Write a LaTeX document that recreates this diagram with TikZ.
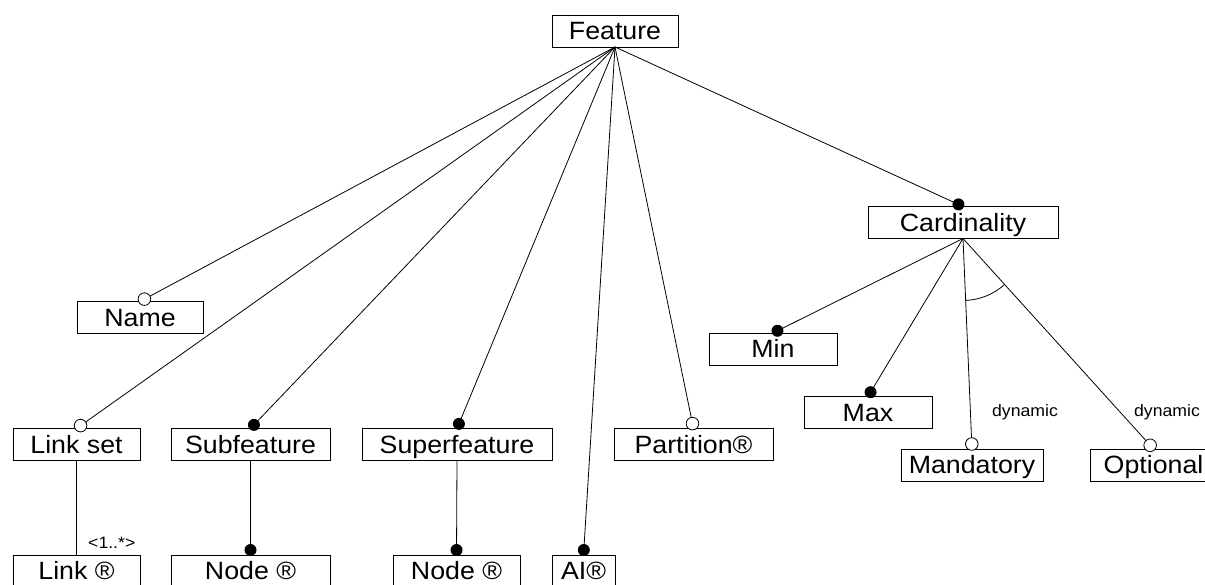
\documentclass[tikz,border=0pt]{standalone}
\usepackage{fontspec}
\setmainfont{Liberation Sans}[FakeStretch=1.07]
\usetikzlibrary{calc}
\tikzset{
  box/.style={draw, line width=0.9pt, minimum width=#1, minimum height=32pt,
    inner sep=0pt, outer sep=0pt, text height=17.5pt, text depth=0pt,
    font=\fontsize{25}{29}\selectfont},
  lbl/.style={inner sep=0pt, font=\fontsize{16.5}{19}\selectfont},
  conn/.style={line width=0.8pt},
  fulldot/.style={fill=black},
  opendot/.style={fill=white, draw=black, line width=0.8pt},
}
% connector ending in a filled dot on the child's top edge
\newcommand\solidlink[2]{%
  \draw[conn] (#1.south) -- ($(#2.north)!5pt!(#1.south)$);
  \fill[fulldot] ($(#2.north)!5pt!(#1.south)$) circle (6pt);}
% connector ending in an open dot on the child's top edge
\newcommand\hollowlink[2]{%
  \draw[conn] (#1.south) -- ($(#2.north)!5pt!(#1.south)$);
  \filldraw[opendot] ($(#2.north)!5pt!(#1.south)$) circle (6.3pt);}
\begin{document}
\begin{tikzpicture}[x=1pt, y=1pt]
  \useasboundingbox (0,0) rectangle (1205,584);
  \fill[white] (0,0) rectangle (1205,584);
  \clip (0,0) rectangle (1205,584);

  % boxes
  \node[box=126pt] (feat)  at (615,553)    {Feature};
  \node[box=190pt] (card)  at (963,361.5)  {Cardinality};
  \node[box=126pt] (name)  at (140,266.5)  {Name};
  \node[box=127pt] (lset)  at (76.5,139.5) {Link set};
  \node[box=159pt] (subf)  at (250.5,139.5){Subfeature};
  \node[box=190pt] (supf)  at (457,139.5)  {Superfeature};
  \node[box=159pt] (part)  at (693.5,139.5){Partition®};
  \node[box=128pt] (min)   at (773,235)    {Min};
  \node[box=128pt] (max)   at (868,171.5)  {Max};
  \node[box=142pt] (mand)  at (972,119)    {Mandatory};
  \node[box=127pt] (opt)   at (1153.5,119) {Optional};
  \node[box=127pt] (link)  at (76.5,13)    {Link ®};
  \node[box=159pt] (node1) at (250.5,13)   {Node ®};
  \node[box=127pt] (node2) at (456.5,13)   {Node ®};
  \node[box=63pt]  (ai)    at (583.5,13)   {AI®};

  % labels
  \node[lbl, anchor=base west] (mult) at (88,36)   {<1..*>};
  \node[lbl, anchor=base] (dyn1) at (1025,167) {dynamic};
  \node[lbl, anchor=base] (dyn2) at (1167,167) {dynamic};

  % feature connectors
  \hollowlink{feat}{name}
  \hollowlink{feat}{lset}
  \solidlink{feat}{subf}
  \solidlink{feat}{supf}
  \solidlink{feat}{ai}
  \hollowlink{feat}{part}
  \solidlink{feat}{card}

  % cardinality connectors
  \solidlink{card}{min}
  \solidlink{card}{max}
  \hollowlink{card}{mand}
  \hollowlink{card}{opt}

  % angle mark between the mandatory and optional branches
  \draw[conn] let \p1=($(mand.north)-(card.south)$), \p2=($(opt.north)-(card.south)$),
      \n1={atan2(\y1,\x1)}, \n2={atan2(\y2,\x2)} in
      ($(card.south)+(\n1:62pt)$) arc[start angle=\n1, end angle=\n2, radius=62pt];

  % lower connectors
  \draw[conn] (lset.south) -- (link.north);
  \solidlink{subf}{node1}
  \solidlink{supf}{node2}
\end{tikzpicture}
\end{document}
